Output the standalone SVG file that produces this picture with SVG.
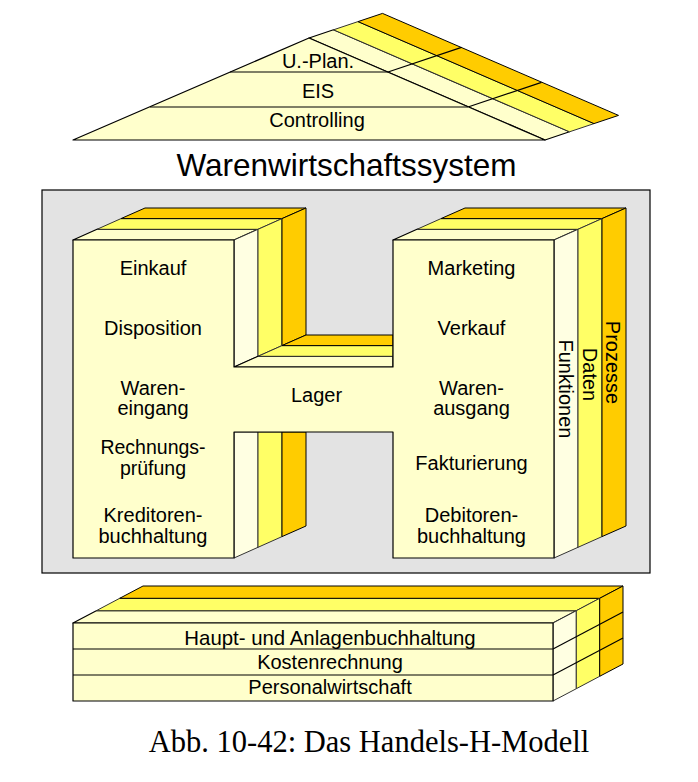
<svg xmlns="http://www.w3.org/2000/svg" width="698" height="782" viewBox="0 0 698 782">
<style>
.lt{fill:#FFFFCC;stroke:#000;stroke-width:1.2;stroke-linejoin:round}
.ls{fill:#FFFFE2;stroke:#333;stroke-width:1;stroke-linejoin:round}
.ye{fill:#FFFF66;stroke:#333;stroke-width:1;stroke-linejoin:round}
.or{fill:#FFCC00;stroke:#000;stroke-width:1;stroke-linejoin:round}
.ln{stroke:#000;stroke-width:1.2;fill:none}
.t{font-family:"Liberation Sans",Arial,sans-serif;font-size:20px;fill:#000;text-anchor:middle}
.s{font-size:19.5px}
</style>
<rect width="698" height="782" fill="#fff"/>
<g id="roof">
<polygon class="lt" points="309,38 545,140 569.5,131.8 333.5,29.8"/>
<polygon class="ye" points="333.5,29.8 569.5,131.8 594,123.6 358,21.6"/>
<polygon class="or" points="358,21.6 594,123.6 618.5,115.4 382.5,13.4"/>
<line class="ln" x1="388" y1="72" x2="461.5" y2="47.4"/>
<line class="ln" x1="468" y1="107" x2="541.5" y2="82.4"/>
<polygon class="lt" points="73,140 309,38 545,140"/>
<line class="ln" x1="230" y1="72" x2="388" y2="72"/>
<line class="ln" x1="150" y1="107" x2="468" y2="107"/>
<text class="t" x="318" y="68">U.-Plan.</text>
<text class="t" x="318" y="98">EIS</text>
<text class="t" x="317" y="127">Controlling</text>
</g>
<text id="title" x="346.5" y="176" style="font-family:'Liberation Sans',Arial,sans-serif;font-size:31.5px;text-anchor:middle">Warenwirtschaftssystem</text>
<g id="hmodel">
<rect x="42" y="190" width="608" height="383" fill="#E3E3E3" stroke="#000" stroke-width="1.2"/>
<polygon class="lt" points="73,240 234,240 258,229.3 97,229.3"/>
<polygon class="ye" points="97,229.3 258,229.3 282,218.6 121,218.6"/>
<polygon class="or" points="121,218.6 282,218.6 306,208 145,208"/>
<polygon class="lt" points="393,240 554,240 578,229.3 417,229.3"/>
<polygon class="ye" points="417,229.3 578,229.3 602,218.6 441,218.6"/>
<polygon class="or" points="441,218.6 602,218.6 626,208 465,208"/>
<polygon class="ls" points="234,240 258,229.3 258,356.3 234,367"/>
<polygon class="ye" points="258,229.3 282,218.6 282,345.6 258,356.3"/>
<polygon class="or" points="282,218.6 306,208 306,335 282,345.6"/>
<polygon class="lt" points="234,367 258,356.3 393,356.3 393,367"/>
<polygon class="ye" points="258,356.3 282,345.6 393,345.6 393,356.3"/>
<polygon class="or" points="282,345.6 306,335 393,335 393,345.6"/>
<polygon class="ls" points="234,432 258,432 258,547.3 234,558"/>
<polygon class="ye" points="258,432 282,432 282,536.6 258,547.3"/>
<polygon class="or" points="282,432 306,432 306,526 282,536.6"/>
<polygon class="ls" points="554,240 578,229.3 578,547.3 554,558"/>
<polygon class="ye" points="578,229.3 602,218.6 602,536.6 578,547.3"/>
<polygon class="or" points="602,218.6 626,208 626,526 602,536.6"/>
<polygon class="lt" stroke-width="1.5" points="73,240 234,240 234,367 393,367 393,240 554,240 554,558 393,558 393,432 234,432 234,558 73,558"/>
<text class="t" x="153" y="275">Einkauf</text>
<text class="t" x="153" y="335">Disposition</text>
<text class="t" x="153" y="395">Waren-</text>
<text class="t" x="153" y="415">eingang</text>
<text class="t s" x="153" y="454">Rechnungs-</text>
<text class="t s" x="153" y="475">prüfung</text>
<text class="t" x="153" y="522">Kreditoren-</text>
<text class="t" x="153" y="543">buchhaltung</text>
<text class="t" x="316.5" y="402">Lager</text>
<text class="t" x="471.5" y="275">Marketing</text>
<text class="t" x="471.5" y="335">Verkauf</text>
<text class="t" x="471.5" y="395">Waren-</text>
<text class="t" x="471.5" y="415">ausgang</text>
<text class="t" x="471.5" y="470">Fakturierung</text>
<text class="t" x="471.5" y="522">Debitoren-</text>
<text class="t" x="471.5" y="543">buchhaltung</text>
<text class="t" transform="translate(559,389) rotate(90)">Funktionen</text>
<text class="t" transform="translate(583,374.5) rotate(90)">Daten</text>
<text class="t" transform="translate(606,362.5) rotate(90)">Prozesse</text>
</g>
<g id="slab">
<polygon class="lt" points="73,623 553,623 576.3,610.7 96.3,610.7"/>
<polygon class="ye" points="96.3,610.7 576.3,610.7 599.7,598.3 119.7,598.3"/>
<polygon class="or" points="119.7,598.3 599.7,598.3 623,586 143,586"/>
<polygon class="ls" points="553,623 576.3,610.7 576.3,688.7 553,701"/>
<polygon class="ye" points="576.3,610.7 599.7,598.3 599.7,676.3 576.3,688.7"/>
<polygon class="or" points="599.7,598.3 623,586 623,664 599.7,676.3"/>
<line class="ln" x1="553" y1="649" x2="623" y2="612"/>
<line class="ln" x1="553" y1="675" x2="623" y2="638"/>
<rect class="lt" x="73" y="623" width="480" height="78"/>
<line class="ln" x1="73" y1="649" x2="553" y2="649" stroke-width="2"/>
<line class="ln" x1="73" y1="675" x2="553" y2="675"/>
<text class="t" x="330" y="645" style="font-size:20.4px">Haupt- und Anlagenbuchhaltung</text>
<text class="t" x="330" y="669">Kostenrechnung</text>
<text class="t" x="330" y="694">Personalwirtschaft</text>
</g>
<text id="caption" x="369" y="752" style="font-family:'Liberation Serif','Times New Roman',serif;font-size:30.5px;text-anchor:middle">Abb. 10-42: Das Handels-H-Modell</text>
</svg>
